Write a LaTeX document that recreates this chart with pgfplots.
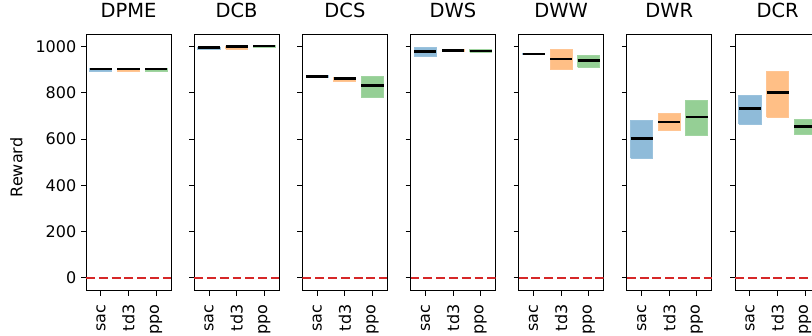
\documentclass[border=0pt]{standalone}
\usepackage{fontspec}
\setmainfont{DejaVu Sans}
\usepackage{pgfplots}
\pgfplotsset{compat=1.18}

\definecolor{tabblue}{HTML}{1F77B4}
\definecolor{taborange}{HTML}{FF7F0E}
\definecolor{tabgreen}{HTML}{2CA02C}
\definecolor{tabred}{HTML}{D62728}

\pgfplotsset{
  panel/.style={
    scale only axis, width=63.75pt, height=192.5pt,
    anchor=south west,
    xmin=-0.54, xmax=2.54, ymin=-55, ymax=1053,
    xtick={0,1,2}, xticklabels={sac,td3,ppo},
    ytick={0,200,400,600,800,1000},
    tick align=outside, tick pos=left,
    major tick length=3.75pt,
    tick style={black, line width=0.75pt},
    axis line style={line width=0.75pt},
    title style={font=\fontsize{14.6}{16}\selectfont, at={(0.5,1)}, anchor=base, yshift=6.75pt},
    tick label style={font=\fontsize{12}{14}\selectfont},
    xticklabel style={rotate=90, anchor=east, xshift=-3pt},
    /pgf/number format/assume math mode=true,
    /pgf/number format/set thousands separator={},
  },
}

% one box: left edge, right edge, colour, low, median, high
\newcommand{\rbox}[6]{%
  \addplot[fill=#3, fill opacity=0.5, draw=#3!45!white, line width=0.75pt]
    coordinates {(#1,#4) (#2,#4) (#2,#6) (#1,#6) (#1,#4)};
  \addplot[black, line width=2pt] coordinates {(#1,#5) (#2,#5)};}
\newcommand{\zeroline}{%
  \addplot[tabred, line width=1.5pt, dash pattern=on 6.7pt off 2.9pt]
    coordinates {(-0.54,0) (2.54,0)};}

\begin{document}
\begin{tikzpicture}
\begin{axis}[panel, at={(64.5pt,33.2pt)}, title={DPME},
    ylabel={Reward}, ylabel style={font=\fontsize{12}{14}\selectfont,
      at={(axis description cs:-0.82,0.48)}, anchor=center}]
  \rbox{-0.4}{0.4}{tabblue}{891}{902}{903}
  \rbox{0.6}{1.4}{taborange}{891}{902}{903}
  \rbox{1.6}{2.4}{tabgreen}{891}{902}{903}
  \zeroline
\end{axis}
\begin{axis}[panel, at={(145.6pt,33.2pt)}, title={DCB}, yticklabels={}]
  \rbox{-0.4}{0.4}{tabblue}{986}{996}{997}
  \rbox{0.6}{1.4}{taborange}{988}{998}{999}
  \rbox{1.6}{2.4}{tabgreen}{997}{1002}{1004}
  \zeroline
\end{axis}
\begin{axis}[panel, at={(226.8pt,33.2pt)}, title={DCS}, yticklabels={}]
  \rbox{-0.4}{0.4}{tabblue}{866}{871}{875}
  \rbox{0.6}{1.4}{taborange}{848}{860}{866}
  \rbox{1.6}{2.4}{tabgreen}{780}{830}{870}
  \zeroline
\end{axis}
\begin{axis}[panel, at={(307.9pt,33.2pt)}, title={DWS}, yticklabels={}]
  \rbox{-0.4}{0.4}{tabblue}{955}{977}{997}
  \rbox{0.6}{1.4}{taborange}{979}{983}{986}
  \rbox{1.6}{2.4}{tabgreen}{975}{980}{985}
  \zeroline
\end{axis}
\begin{axis}[panel, at={(389.0pt,33.2pt)}, title={DWW}, yticklabels={}]
  \rbox{-0.4}{0.4}{tabblue}{963}{967}{970}
  \rbox{0.6}{1.4}{taborange}{898}{946}{987}
  \rbox{1.6}{2.4}{tabgreen}{909}{939}{961}
  \zeroline
\end{axis}
\begin{axis}[panel, at={(470.1pt,33.2pt)}, title={DWR}, yticklabels={}]
  \rbox{-0.4}{0.4}{tabblue}{516}{601}{678}
  \rbox{0.6}{1.4}{taborange}{637}{673}{710}
  \rbox{1.6}{2.4}{tabgreen}{615}{695}{768}
  \zeroline
\end{axis}
\begin{axis}[panel, at={(551.3pt,33.2pt)}, title={DCR}, yticklabels={}]
  \rbox{-0.4}{0.4}{tabblue}{663}{732}{788}
  \rbox{0.6}{1.4}{taborange}{694}{800}{893}
  \rbox{1.6}{2.4}{tabgreen}{621}{653}{683}
  \zeroline
\end{axis}
\pgfresetboundingbox
\useasboundingbox (0,0) rectangle (609pt,251.25pt);
\end{tikzpicture}
\end{document}
